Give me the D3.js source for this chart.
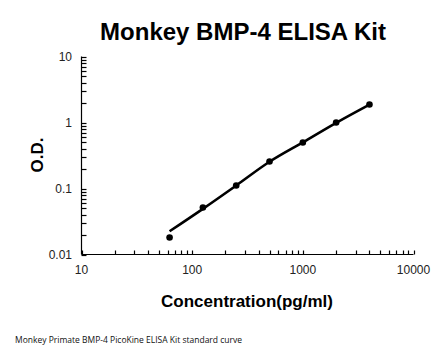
<!DOCTYPE html>
<html><head><meta charset="utf-8">
<script src="https://cdn.jsdelivr.net/npm/d3@7"></script>
<style>body{margin:0;background:#fff}svg{display:block}</style>
</head><body>
<script>
const concentrations = [62.5, 125, 250, 500, 1000, 2000, 4000];
const odValues = [0.0181, 0.0515, 0.111, 0.257, 0.498, 1.0, 1.87];
const fitValues = [0.0225, 0.0492, 0.111, 0.254, 0.50, 0.99, 1.87];
const xTickValues = [10, 100, 1000, 10000];
const yTickValues = [0.01, 0.1, 1, 10];
const yTickLabels = ["0.01", "0.1", "1", "10"];

const W = 446, H = 356;
const svg = d3.select("body").append("svg").attr("width", W).attr("height", H);
const x = d3.scaleLog().domain([10, 10000]).range([81.5, 413.5]);
const y = d3.scaleLog().domain([0.01, 10]).range([254.5, 56.5]);

svg.append("text").attr("x", 243).attr("y", 40).attr("text-anchor", "middle")
  .attr("font-family", "Liberation Sans, Arial, sans-serif").attr("font-weight", "bold")
  .attr("font-size", 24).text("Monkey BMP-4 ELISA Kit");

// minor ticks
const xMinor = [];
for (let d = 10; d < 10000; d *= 10) for (let k = 1; k < 10; k++) xMinor.push(d * k);
xMinor.push(10000);
const yMinor = [];
for (let d = 0.01; d < 10; d *= 10) for (let k = 1; k < 10; k++) yMinor.push(d * k);
yMinor.push(10);

const g = svg.append("g").attr("stroke", "#000").attr("stroke-width", 1.2);
g.selectAll(".xt").data(xMinor).enter().append("line")
  .attr("x1", d => Math.round(x(d)) + 0.5).attr("x2", d => Math.round(x(d)) + 0.5)
  .attr("y1", y(0.01)).attr("y2", y(0.01) - 4);
g.selectAll(".yt").data(yMinor).enter().append("line")
  .attr("y1", d => Math.round(y(d)) + 0.5).attr("y2", d => Math.round(y(d)) + 0.5)
  .attr("x1", x(10)).attr("x2", x(10) + 5);
g.append("line").attr("x1", x(10)).attr("x2", x(10000)).attr("y1", y(0.01)).attr("y2", y(0.01));
g.append("line").attr("x1", x(10)).attr("x2", x(10)).attr("y1", y(0.01)).attr("y2", y(10));

const tf = "Liberation Sans, Arial, sans-serif";
svg.selectAll(".xl").data(xTickValues).enter().append("text")
  .attr("x", d => x(d)).attr("y", 274).attr("text-anchor", "middle")
  .attr("font-family", tf).attr("font-size", 12).attr("fill", "#222").text(d => d);
svg.selectAll(".yl").data(yTickValues).enter().append("text")
  .attr("x", 72).attr("y", d => y(d) + 4).attr("text-anchor", "end")
  .attr("font-family", tf).attr("font-size", 12).attr("fill", "#222").text((d, i) => yTickLabels[i]);

const line = d3.line().x((d, i) => x(concentrations[i])).y(d => y(d)).curve(d3.curveCatmullRom.alpha(0.5));
svg.append("path").attr("d", line(fitValues)).attr("fill", "none")
  .attr("stroke", "#000").attr("stroke-width", 2.6);
svg.selectAll(".pt").data(odValues).enter().append("circle")
  .attr("cx", (d, i) => x(concentrations[i])).attr("cy", d => y(d)).attr("r", 3.3).attr("fill", "#000");

svg.append("text").attr("x", 247).attr("y", 307).attr("text-anchor", "middle")
  .attr("font-family", tf).attr("font-weight", "bold").attr("font-size", 17)
  .text("Concentration(pg/ml)");
svg.append("text").attr("transform", "translate(43,155) rotate(-90)").attr("text-anchor", "middle")
  .attr("font-family", tf).attr("font-weight", "bold").attr("font-size", 17).text("O.D.");
svg.append("text").attr("x", 15).attr("y", 343)
  .attr("font-family", "Open Sans, Noto Sans, sans-serif").attr("font-size", 8.5).attr("fill", "#111")
  .text("Monkey Primate BMP-4 PicoKine ELISA Kit standard curve");
</script>
</body></html>
